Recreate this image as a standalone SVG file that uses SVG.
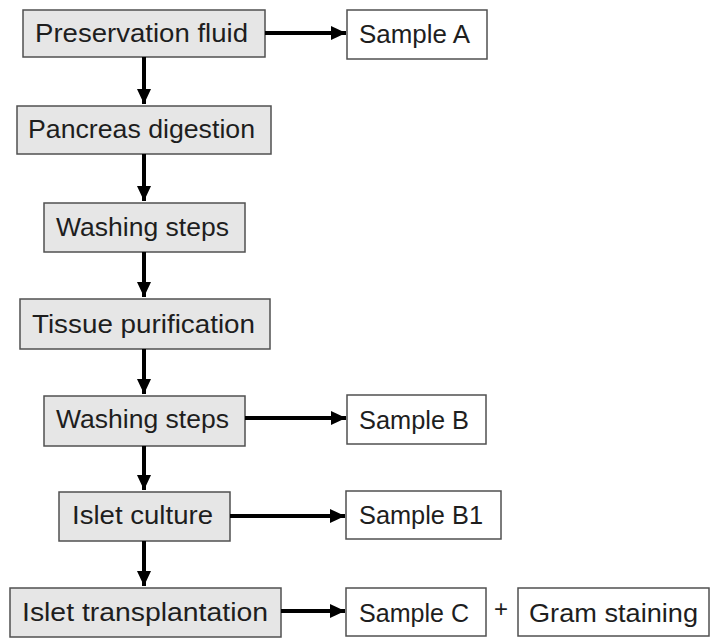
<svg xmlns="http://www.w3.org/2000/svg" width="711" height="639" viewBox="0 0 711 639">
<defs>
<marker id="ah" markerUnits="userSpaceOnUse" markerWidth="16" markerHeight="14" refX="15" refY="7" orient="auto">
<path d="M0,0 L15,7 L0,14 z" fill="#000"/>
</marker>
<style>
.step{fill:#e6e6e6;stroke:#505050;stroke-width:1.5}
.samp{fill:#fff;stroke:#505050;stroke-width:1.5}
text{font-family:"Liberation Sans",Arial,sans-serif;font-size:25.5px;fill:#1e1e1e}
.c line{stroke:#000;stroke-width:4;marker-end:url(#ah)}
</style>
</defs>
<rect width="711" height="639" fill="#fff"/>
<g id="n-preservation"><rect class="step" x="23" y="10" width="242" height="47"/><text x="35" y="42" textLength="213" lengthAdjust="spacingAndGlyphs">Preservation fluid</text></g>
<g id="n-pancreas"><rect class="step" x="17" y="106" width="254" height="48"/><text x="28" y="138" textLength="227" lengthAdjust="spacingAndGlyphs">Pancreas digestion</text></g>
<g id="n-wash1"><rect class="step" x="44" y="203" width="201" height="49"/><text x="56" y="236" textLength="173" lengthAdjust="spacingAndGlyphs">Washing steps</text></g>
<g id="n-tissue"><rect class="step" x="20" y="299" width="250" height="50"/><text x="32" y="333" textLength="223" lengthAdjust="spacingAndGlyphs">Tissue purification</text></g>
<g id="n-wash2"><rect class="step" x="44" y="396" width="201" height="50"/><text x="56" y="428" textLength="173" lengthAdjust="spacingAndGlyphs">Washing steps</text></g>
<g id="n-culture"><rect class="step" x="59" y="492" width="171" height="49"/><text x="72" y="524" textLength="141" lengthAdjust="spacingAndGlyphs">Islet culture</text></g>
<g id="n-transplant"><rect class="step" x="10" y="588" width="271" height="49"/><text x="22" y="621" textLength="246" lengthAdjust="spacingAndGlyphs">Islet transplantation</text></g>
<g id="n-sampleA"><rect class="samp" x="347" y="10" width="140" height="49"/><text x="359" y="43" textLength="111" lengthAdjust="spacingAndGlyphs">Sample A</text></g>
<g id="n-sampleB"><rect class="samp" x="347" y="395" width="139" height="49"/><text x="359" y="429" textLength="110" lengthAdjust="spacingAndGlyphs">Sample B</text></g>
<g id="n-sampleB1"><rect class="samp" x="346" y="491" width="155" height="48"/><text x="359" y="524" textLength="124" lengthAdjust="spacingAndGlyphs">Sample B1</text></g>
<g id="n-sampleC"><rect class="samp" x="346" y="588" width="140" height="48"/><text x="359" y="622" textLength="110" lengthAdjust="spacingAndGlyphs">Sample C</text></g>
<g id="n-plus"><text x="501" y="617" text-anchor="middle" style="font-size:24px">+</text></g>
<g id="n-gram"><rect class="samp" x="518" y="588" width="191" height="48"/><text x="529" y="622" textLength="169" lengthAdjust="spacingAndGlyphs">Gram staining</text></g>
<g class="c" id="connectors">
<line x1="144" y1="57" x2="144" y2="104"/>
<line x1="144" y1="154" x2="144" y2="201"/>
<line x1="144" y1="252" x2="144" y2="297"/>
<line x1="144" y1="349" x2="144" y2="394"/>
<line x1="144" y1="446" x2="144" y2="490"/>
<line x1="144" y1="541" x2="144" y2="586"/>
<line x1="265" y1="33" x2="346" y2="33"/>
<line x1="245" y1="418" x2="346" y2="418"/>
<line x1="230" y1="516" x2="345" y2="516"/>
<line x1="281" y1="611" x2="345" y2="611"/>
</g>
</svg>
